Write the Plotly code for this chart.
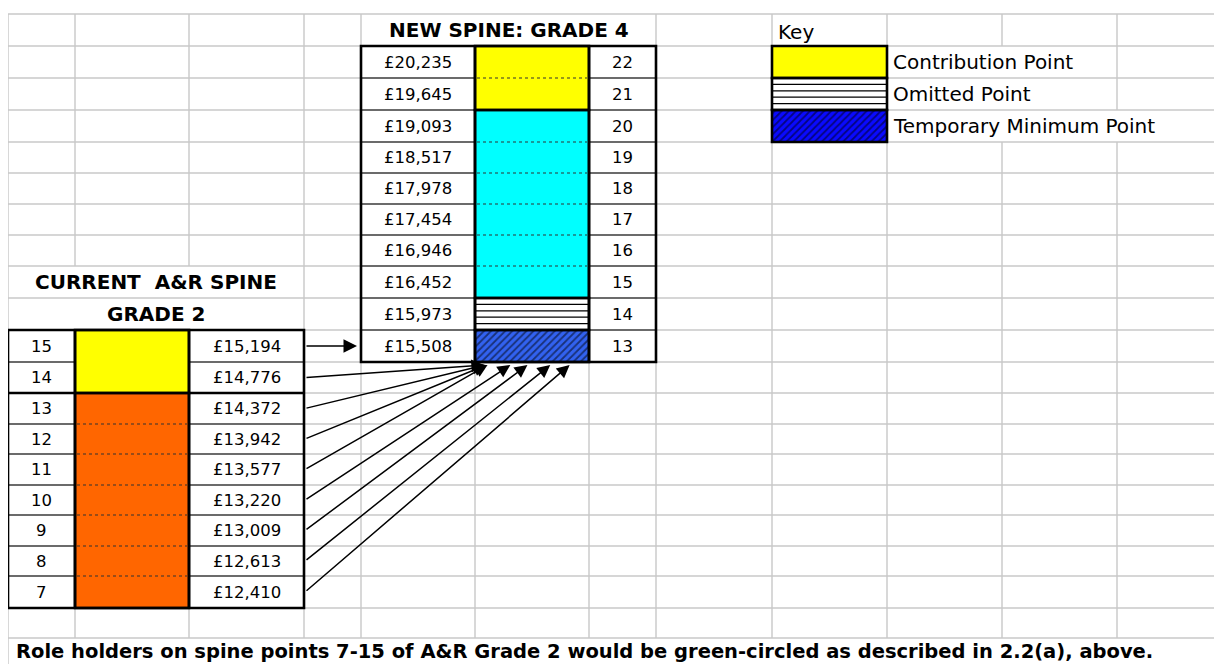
import plotly.graph_objects as go

# ---------------- data ----------------
new_title = "NEW SPINE: GRADE 4"
new_points = [22, 21, 20, 19, 18, 17, 16, 15, 14, 13]
new_salaries = [20235, 19645, 19093, 18517, 17978, 17454, 16946, 16452, 15973, 15508]
new_types = ["contribution", "contribution", "normal", "normal", "normal",
             "normal", "normal", "normal", "omitted", "temporary"]

cur_title = ["CURRENT\u00a0 A&R SPINE", "GRADE 2"]
cur_points = [15, 14, 13, 12, 11, 10, 9, 8, 7]
cur_salaries = [15194, 14776, 14372, 13942, 13577, 13220, 13009, 12613, 12410]
cur_types = ["contribution", "contribution", "current", "current", "current",
             "current", "current", "current", "current"]

# every current point maps onto new spine point 13
arrow_source = [15, 14, 13, 12, 11, 10, 9, 8, 7]
arrow_target = [13, 13, 13, 13, 13, 13, 13, 13, 13]

key_title = "Key"
key_types = ["contribution", "omitted", "temporary_key"]
key_labels = ["Contribution Point", "Omitted Point", "Temporary Minimum Point"]

footnote = "Role holders on spine points 7-15 of A&R Grade 2 would be green-circled as described in 2.2(a), above."

# ---------------- layout / style ----------------
W, H = 1222, 664
BODY = 8  # default page margin around the plot div
col_edges = [8, 75, 189, 304, 361, 475, 589, 656, 772, 887, 1002, 1117, 1232]
row_edges = [14, 46, 78, 110, 142, 173, 204, 235, 266, 298, 330, 362, 393,
             424, 454, 485, 515, 546, 576, 608, 638]
GRID = "#c8c8c8"
BLACK = "#000000"
THICK = 2.6
THIN = 1.2
FONT = "DejaVu Sans"
fills = {"contribution": "#ffff00", "normal": "#00ffff", "current": "#ff6600",
         "omitted": "#ffffff"}
hatch_bg = {"temporary": "#3262f0", "temporary_key": "#0a0aff"}

# column / row indices
A, B, C, D, E, F, G, Hc, I, J, K, L = range(12)
NEW_ROW0 = 1
CUR_ROW0 = 10
KEY_ROW0 = 1

# gridline segments hidden by merged cells / overflowing text: (col edge idx, row idx)
hidden = {(F, 0), (G, 0), (B, 8), (C, 8), (B, 9), (C, 9),
          (K, 1), (K, 2), (K, 3), (L, 3)}

shapes = []


def line(x0, y0, x1, y1, color=BLACK, width=THIN, dash=None, layer="above"):
    ln = dict(color=color, width=width)
    if dash:
        ln["dash"] = dash
    shapes.append(dict(type="line", x0=x0, y0=y0, x1=x1, y1=y1, xref="x", yref="y",
                       layer=layer, line=ln))


def rect(x0, y0, x1, y1, fill=None, lc=None, lw=0, layer="above"):
    d = dict(type="rect", x0=x0, y0=y0, x1=x1, y1=y1, xref="x", yref="y", layer=layer,
             line=dict(width=lw, color=lc or "rgba(0,0,0,0)"))
    if fill:
        d["fillcolor"] = fill
    shapes.append(d)


def cx(c):
    return (col_edges[c] + col_edges[c + 1]) / 2


def cy(r):
    return (row_edges[r] + row_edges[r + 1]) / 2


# ---- gridlines ----
for j, x in enumerate(col_edges):
    vis = [r for r in range(20) if (j, r) not in hidden]
    runs = []
    for r in vis:
        if runs and runs[-1][1] == r - 1:
            runs[-1][1] = r
        else:
            runs.append([r, r])
    for a, b in runs:
        line(x, row_edges[a], x, row_edges[b + 1], GRID, 1.4, layer="below")
line(col_edges[0], row_edges[-1], col_edges[0], H + 10, GRID, 1.4, layer="below")
for y in row_edges:
    line(col_edges[0], y, col_edges[-1], y, GRID, 1.4, layer="below")

fig = go.Figure()
hatch_cells = []


def colour_cell(c, r, t):
    x0, x1 = col_edges[c], col_edges[c + 1]
    y0, y1 = row_edges[r], row_edges[r + 1]
    if t in hatch_bg:
        hatch_cells.append((x0, x1, y0, y1, hatch_bg[t]))
    else:
        rect(x0, y0, x1, y1, fill=fills[t], layer="below")
    if t == "omitted":
        for k in range(1, 5):
            yy = y0 + k * (y1 - y0) / 5
            line(x0, yy, x1, yy, BLACK, 1.3)


def groups(types):
    out = []
    for i, t in enumerate(types):
        if out and out[-1][0] == t:
            out[-1][2] = i
        else:
            out.append([t, i, i])
    return out


def spine_table(row0, types, val_cols, colour_col, dotted_types, thick_rows):
    n = len(types)
    top, bot = row_edges[row0], row_edges[row0 + n]
    for i, t in enumerate(types):
        colour_cell(colour_col, row0 + i, t)
    for i in range(1, n):
        y = row_edges[row0 + i]
        for c in val_cols:
            line(col_edges[c], y, col_edges[c + 1], y, BLACK,
                 THICK if i in thick_rows else THIN)
    for t, a, b in groups(types):
        y0, y1 = row_edges[row0 + a], row_edges[row0 + b + 1]
        for i in range(a + 1, b + 1):
            if t in dotted_types:
                y = row_edges[row0 + i]
                line(col_edges[colour_col] + 2, y, col_edges[colour_col + 1] - 2, y,
                     "#333333", 1.2, dash="dot")
        rect(col_edges[colour_col], y0, col_edges[colour_col + 1], y1, lc=BLACK, lw=THICK)
    xs = sorted(set(val_cols + [colour_col]))
    x_left, x_right = col_edges[xs[0]], col_edges[xs[-1] + 1]
    for c in xs[1:]:
        line(col_edges[c], top, col_edges[c], bot, BLACK, THICK)
    rect(x_left, top, x_right, bot, lc=BLACK, lw=THICK)


spine_table(NEW_ROW0, new_types, [E, G], F, {"contribution", "normal"}, set())
spine_table(CUR_ROW0, cur_types, [A, C], B, {"current"}, {2})

for i, t in enumerate(key_types):
    r = KEY_ROW0 + i
    colour_cell(I, r, t)
    rect(col_edges[I], row_edges[r], col_edges[I + 1], row_edges[r + 1], lc=BLACK, lw=THICK)

for x0, x1, y0, y1, bg in hatch_cells:
    fig.add_trace(go.Bar(
        x=[(x0 + x1) / 2], y=[y1 - y0], base=[y0], width=[x1 - x0], orientation="v",
        hoverinfo="skip", showlegend=False,
        marker=dict(color=bg, line=dict(width=0),
                    pattern=dict(shape="/", fgcolor="#000000", size=5,
                                 solidity=0.35, fillmode="overlay"))))

# ---------------- text ----------------
ann = []


def txt(x, y, s, size=17, bold=False, anchor="center"):
    ann.append(dict(x=x, y=y, xref="x", yref="y", text=f"<b>{s}</b>" if bold else s,
                    showarrow=False, xanchor=anchor, yanchor="middle",
                    font=dict(family=FONT, size=size, color="#000000")))


txt((col_edges[E] + col_edges[G + 1]) / 2, cy(0), new_title, 20, True)
for i, (p, s) in enumerate(zip(new_points, new_salaries)):
    r = NEW_ROW0 + i
    txt(cx(E), cy(r), f"£{s:,}", 16.5)
    txt(cx(G), cy(r), str(p), 16.5)

txt((col_edges[A] + col_edges[C + 1]) / 2, cy(CUR_ROW0 - 2), cur_title[0], 20, True)
txt((col_edges[A] + col_edges[C + 1]) / 2, cy(CUR_ROW0 - 1), cur_title[1], 20, True)
for i, (p, s) in enumerate(zip(cur_points, cur_salaries)):
    r = CUR_ROW0 + i
    txt(cx(A), cy(r), str(p), 16.5)
    txt(cx(C), cy(r), f"£{s:,}", 16.5)

txt(col_edges[I] + 4, cy(0) + 2, key_title, 20, anchor="left")
for i, lab in enumerate(key_labels):
    txt(col_edges[J] + 4, cy(KEY_ROW0 + i), lab, 20, anchor="left")

txt(col_edges[A] + 6, 651, footnote, 19.5, True, anchor="left")

# ---------------- arrows ----------------
landing = [None, 0.08, 0.09, 0.10, 0.11, 0.31, 0.46, 0.66, 0.83]
for src, tgt, frac in zip(arrow_source, arrow_target, landing):
    rs = CUR_ROW0 + cur_points.index(src)
    rt = NEW_ROW0 + new_points.index(tgt)
    if frac is None:
        hx_, hy_ = col_edges[E] - 4, cy(rt)
        size = 1.8
    else:
        hx_ = col_edges[F] + frac * (col_edges[F + 1] - col_edges[F])
        hy_ = row_edges[rt + 1] + 3
        size = 1.7
    tx_, ty_ = col_edges[D] + 1, cy(rs)
    ann.append(dict(x=hx_, y=hy_, ax=tx_, ay=ty_, xref="x", yref="y", axref="x", ayref="y",
                    text="", showarrow=True, arrowhead=2, arrowsize=size, arrowwidth=1.5,
                    arrowcolor="#000000"))

fig.update_layout(
    width=W - BODY, height=H - BODY, margin=dict(l=0, r=0, t=0, b=0),
    paper_bgcolor="#ffffff", plot_bgcolor="#ffffff",
    xaxis=dict(range=[BODY, W], visible=False, fixedrange=True),
    yaxis=dict(range=[H, BODY], visible=False, fixedrange=True),
    barmode="overlay", bargap=0, showlegend=False,
    shapes=shapes, annotations=ann,
)

fig.write_html("out.html", config={"displayModeBar": False})
